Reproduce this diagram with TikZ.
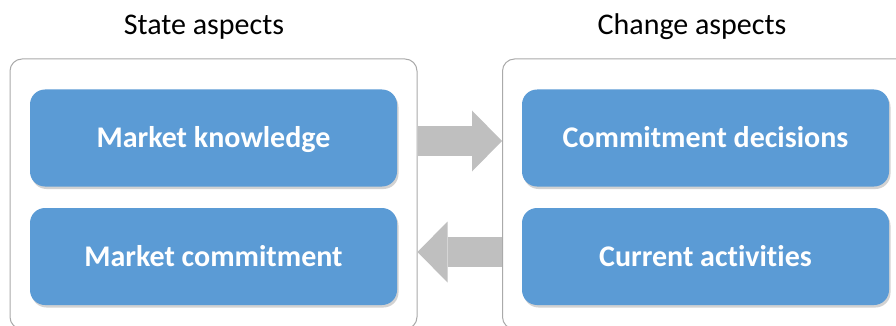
\documentclass[tikz,border=0pt]{standalone}
\usepackage{fontspec}
\setmainfont{Carlito}[RawFeature=-liga]
\usetikzlibrary{arrows.meta, shadows}

\definecolor{boxblue}{RGB}{91,155,213}
\definecolor{arrowgray}{RGB}{191,191,191}
\definecolor{framegray}{RGB}{170,170,170}

\tikzset{
  aspectframe/.style={draw=framegray, line width=1pt, rounded corners=12pt, fill=white,
    minimum width=407pt, minimum height=270pt},
  factorbox/.style={fill=boxblue, rounded corners=15pt, minimum width=367pt, minimum height=97pt,
    text=white, font=\fontsize{30}{36}\selectfont\bfseries, text height=19pt, text depth=0pt,
    drop shadow={opacity=0.35, shadow xshift=1.5pt, shadow yshift=-2.5pt}},
  heading/.style={font=\fontsize{30}{36}\selectfont, anchor=base},
  bigarrow/.style={draw=arrowgray, line width=30pt,
    -{Triangle[length=30pt, width=61pt, line width=0pt]}}
}

\begin{document}
\begin{tikzpicture}[x=1pt, y=-1pt]
  \useasboundingbox (0,0) rectangle (896,326);
  \clip (0,0) rectangle (896,326);
  % Frames
  \node[aspectframe] (state) at (213.5,194) {};
  \node[aspectframe] (change) at (706,194) {};
  % Titles
  \node[heading] (statetitle) at (204,35) {State aspects};
  \node[heading] (changetitle) at (692,35) {Change aspects};
  % Blue boxes
  \node[factorbox] (knowledge) at (213.5,138) {Market knowledge};
  \node[factorbox] (commitment) at (213.5,256.5) {Market commitment};
  \node[factorbox] (decisions) at (705.5,138) {Commitment decisions};
  \node[factorbox] (activities) at (705.5,256.5) {Current activities};
  % Arrows
  \coordinate (upper) at (0,141);
  \coordinate (lower) at (0,252);
  \draw[bigarrow] (state.east |- upper) -- (change.west |- upper);
  \draw[bigarrow] (change.west |- lower) -- (state.east |- lower);
\end{tikzpicture}
\end{document}
